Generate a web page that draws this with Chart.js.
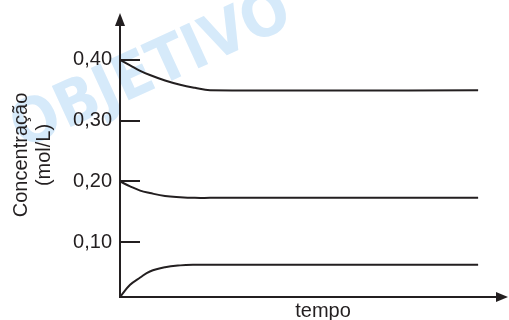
<!DOCTYPE html>
<html>
<head>
<meta charset="utf-8">
<script src="https://cdn.jsdelivr.net/npm/chart.js@4"></script>
<style>
html,body{margin:0;padding:0;background:#fff;}
#wrap{width:509px;height:320px;}
</style>
</head>
<body>
<div id="wrap"><canvas id="c" width="509" height="320"></canvas></div>
<script>
const time      = [0,     2.6,   5.2,   7.7,   11.6,  15.5,  19.3,  23.2,  92.3];
const seriesTop = [0.400, 0.391, 0.382, 0.375, 0.366, 0.359, 0.354, 0.350, 0.350];
const seriesMid = [0.200, 0.192, 0.185, 0.181, 0.176, 0.174, 0.173, 0.173, 0.173];
const seriesLow = [0.010, 0.030, 0.042, 0.052, 0.059, 0.062, 0.063, 0.063, 0.063];
const yTicks = [0.10, 0.20, 0.30, 0.40];
const yTitle = ["Concentração", "(mol/L)"];
const xTitle = "tempo";
const watermark = "OBJETIVO";

const INK = '#231f20';
const FONT = '"Liberation Sans", Arial, sans-serif';

function pts(ys){ return time.map((t,i)=>({x:t, y:ys[i]})); }
function ds(ys){
  return {data: pts(ys), borderColor: INK, borderWidth: 2, pointRadius: 0,
          fill: false, tension: 0.4};
}

const axesPlugin = {
  id: 'axesPlugin',
  beforeDraw(chart){
    const ctx = chart.ctx;
    ctx.save();
    ctx.fillStyle = '#fff';
    ctx.fillRect(0,0,chart.width,chart.height);
    // watermark
    ctx.translate(152, 72);
    ctx.rotate(-0.43);
    ctx.font = 'bold 62px "DejaVu Sans", ' + FONT;
    ctx.fillStyle = '#d6eafa';
    ctx.textAlign = 'center';
    ctx.textBaseline = 'middle';
    ctx.fillText(watermark, 0, 0, 300);
    ctx.restore();
  },
  afterDraw(chart){
    const ctx = chart.ctx;
    const xs = chart.scales.x, ys = chart.scales.y;
    const x0 = xs.left, y0 = ys.bottom;
    const xEnd = xs.right, yEnd = ys.top;
    ctx.save();
    ctx.strokeStyle = INK; ctx.fillStyle = INK; ctx.lineWidth = 2;
    // y axis
    ctx.beginPath(); ctx.moveTo(x0, y0 + 1); ctx.lineTo(x0, yEnd + 8); ctx.stroke();
    ctx.beginPath(); ctx.moveTo(x0, yEnd); ctx.lineTo(x0 - 5, yEnd + 13); ctx.lineTo(x0 + 5, yEnd + 13); ctx.closePath(); ctx.fill();
    // x axis
    ctx.beginPath(); ctx.moveTo(x0 - 1, y0); ctx.lineTo(xEnd - 8, y0); ctx.stroke();
    ctx.beginPath(); ctx.moveTo(xEnd, y0); ctx.lineTo(xEnd - 12, y0 - 5); ctx.lineTo(xEnd - 12, y0 + 5); ctx.closePath(); ctx.fill();
    // tick marks
    yTicks.forEach(v => {
      const py = Math.round(ys.getPixelForValue(v));
      ctx.beginPath(); ctx.moveTo(x0, py); ctx.lineTo(x0 + 20, py); ctx.stroke();
    });
    // x title
    ctx.font = '20px ' + FONT;
    ctx.textAlign = 'center';
    ctx.textBaseline = 'alphabetic';
    ctx.fillText(xTitle, 323, 317);
    ctx.restore();
  }
};

new Chart(document.getElementById('c'), {
  type: 'line',
  data: { datasets: [ds(seriesTop), ds(seriesMid), ds(seriesLow)] },
  options: {
    responsive: false,
    animation: false,
    events: [],
    layout: { padding: { top: 13, right: 1, bottom: 0, left: 0 } },
    plugins: { legend: { display: false }, tooltip: { enabled: false } },
    scales: {
      x: {
        type: 'linear', min: 0, max: 100,
        grid: { display: false, drawTicks: false },
        border: { display: false },
        ticks: { display: false },
        afterFit(s){ s.height = 23; s.paddingLeft = 0; s.paddingRight = 0; }
      },
      y: {
        type: 'linear', min: 0.01, max: 0.477,
        grid: { display: false, drawTicks: false },
        border: { display: false },
        afterBuildTicks(s){ s.ticks = yTicks.map(v => ({value: v})); },
        ticks: {
          color: INK, padding: 8,
          font: { family: FONT, size: 20 },
          callback: v => v.toFixed(2).replace('.', ',')
        },
        title: {
          display: true, text: yTitle, color: INK,
          font: { family: FONT, size: 20, lineHeight: 1.15 },
          padding: { top: 10, bottom: 0 }
        },
        afterFit(s){ s.width = 120; s.paddingTop = 0; s.paddingBottom = 0; }
      }
    }
  },
  plugins: [axesPlugin]
});
</script>
</body>
</html>
